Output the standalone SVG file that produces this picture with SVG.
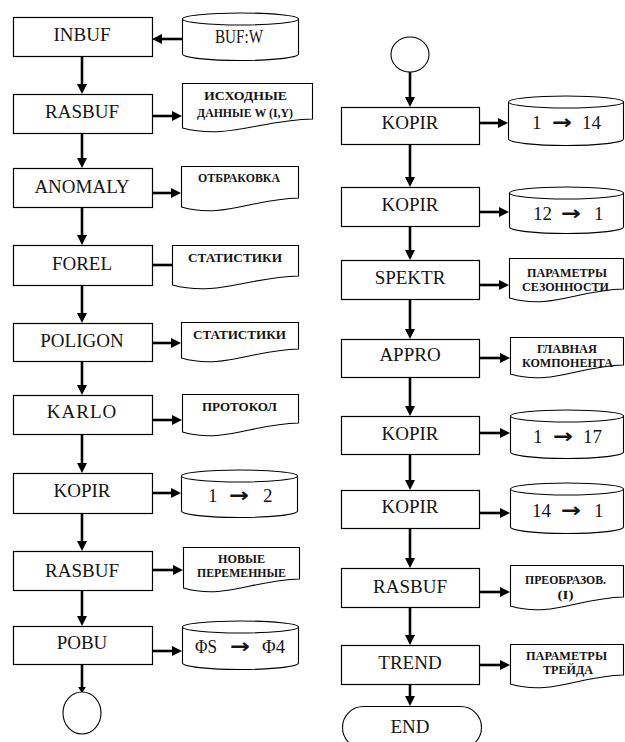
<svg xmlns="http://www.w3.org/2000/svg" width="625" height="742" viewBox="0 0 625 742">
<style>
.box{fill:#fff;stroke:#000;stroke-width:1.2}
.shp{fill:#fff;stroke:#000;stroke-width:1.1}
.lbl{font-family:"Liberation Serif","Times New Roman",serif;font-size:19px;fill:#141414;text-anchor:middle}
.dl{font-family:"Liberation Serif","Times New Roman",serif;font-size:12px;font-weight:bold;fill:#141414;text-anchor:middle}
.dg{font-family:"Liberation Serif","Times New Roman",serif;font-size:19px;fill:#141414}
.ar{font-family:"DejaVu Sans",sans-serif;font-weight:bold;font-size:20px}
.cn{stroke:#000;stroke-width:2.6;fill:none}
</style>
<defs>
<marker id="ah" markerUnits="userSpaceOnUse" markerWidth="11" markerHeight="11" refX="4" refY="5" orient="auto">
<path d="M0,0 L10,5 L0,10 z" fill="#000"/>
</marker>
</defs>

<g id="connectors">
<line class="cn" x1="82" y1="56" x2="82" y2="88" marker-end="url(#ah)"/>
<line class="cn" x1="82" y1="133" x2="82" y2="162" marker-end="url(#ah)"/>
<line class="cn" x1="82" y1="207" x2="82" y2="239" marker-end="url(#ah)"/>
<line class="cn" x1="82" y1="285" x2="82" y2="317" marker-end="url(#ah)"/>
<line class="cn" x1="82" y1="361" x2="82" y2="389" marker-end="url(#ah)"/>
<line class="cn" x1="82" y1="434" x2="82" y2="467" marker-end="url(#ah)"/>
<line class="cn" x1="82" y1="513" x2="82" y2="545" marker-end="url(#ah)"/>
<line class="cn" x1="82" y1="590" x2="82" y2="620" marker-end="url(#ah)"/>
<line class="cn" x1="82" y1="664" x2="82" y2="688"/>
<path d="M78,687 L86,687 L82,693 z" fill="#000"/>
<line class="cn" x1="182" y1="39" x2="158" y2="39" marker-end="url(#ah)"/>
<line class="cn" x1="152" y1="116" x2="176" y2="116" marker-end="url(#ah)"/>
<line class="cn" x1="152" y1="193" x2="175" y2="193" marker-end="url(#ah)"/>
<line class="cn" x1="152" y1="265" x2="172" y2="265"/>
<line class="cn" x1="152" y1="343" x2="175" y2="343" marker-end="url(#ah)"/>
<line class="cn" x1="152" y1="420" x2="176" y2="420" marker-end="url(#ah)"/>
<line class="cn" x1="152" y1="493" x2="175" y2="493" marker-end="url(#ah)"/>
<line class="cn" x1="152" y1="570" x2="177" y2="570" marker-end="url(#ah)"/>
<line class="cn" x1="152" y1="651" x2="176" y2="651" marker-end="url(#ah)"/>
<line class="cn" x1="410" y1="72" x2="410" y2="101" marker-end="url(#ah)"/>
<line class="cn" x1="410" y1="144" x2="410" y2="181" marker-end="url(#ah)"/>
<line class="cn" x1="410" y1="226" x2="410" y2="254" marker-end="url(#ah)"/>
<line class="cn" x1="410" y1="299" x2="410" y2="333" marker-end="url(#ah)"/>
<line class="cn" x1="410" y1="377" x2="410" y2="410" marker-end="url(#ah)"/>
<line class="cn" x1="410" y1="454" x2="410" y2="484" marker-end="url(#ah)"/>
<line class="cn" x1="410" y1="528" x2="410" y2="562" marker-end="url(#ah)"/>
<line class="cn" x1="410" y1="607" x2="410" y2="639" marker-end="url(#ah)"/>
<line class="cn" x1="410" y1="678" x2="410" y2="700" marker-end="url(#ah)"/>
<line class="cn" x1="479" y1="123" x2="502" y2="123" marker-end="url(#ah)"/>
<line class="cn" x1="479" y1="212" x2="503" y2="212" marker-end="url(#ah)"/>
<line class="cn" x1="479" y1="285" x2="503" y2="285" marker-end="url(#ah)"/>
<line class="cn" x1="479" y1="358" x2="504" y2="358" marker-end="url(#ah)"/>
<line class="cn" x1="479" y1="433" x2="504" y2="433" marker-end="url(#ah)"/>
<line class="cn" x1="479" y1="513" x2="504" y2="513" marker-end="url(#ah)"/>
<line class="cn" x1="479" y1="592" x2="504" y2="592" marker-end="url(#ah)"/>
<line class="cn" x1="479" y1="665" x2="504" y2="665" marker-end="url(#ah)"/>
</g>

<g id="inbuf"><rect class="box" x="13.5" y="17.5" width="139" height="39"/><text class="lbl" x="82" y="41">INBUF</text></g>
<g id="rasbuf1"><rect class="box" x="13.5" y="94.5" width="139" height="39"/><text class="lbl" x="82" y="118">RASBUF</text></g>
<g id="anomaly"><rect class="box" x="13.5" y="168.5" width="139" height="39"/><text class="lbl" x="82" y="193">ANOMALY</text></g>
<g id="forel"><rect class="box" x="13.5" y="245.5" width="139" height="40"/><text class="lbl" x="82" y="270">FOREL</text></g>
<g id="poligon"><rect class="box" x="13.5" y="323.5" width="139" height="38"/><text class="lbl" x="82" y="347">POLIGON</text></g>
<g id="karlo"><rect class="box" x="13.5" y="395.5" width="139" height="39"/><text class="lbl" x="82" y="418" letter-spacing="1">KARLO</text></g>
<g id="kopir1"><rect class="box" x="13.5" y="473.5" width="139" height="40"/><text class="lbl" x="82" y="497">KOPIR</text></g>
<g id="rasbuf2"><rect class="box" x="13.5" y="551.5" width="139" height="39"/><text class="lbl" x="82" y="577">RASBUF</text></g>
<g id="pobu"><rect class="box" x="13.5" y="626.5" width="139" height="38"/><text class="lbl" x="82" y="649">POBU</text></g>
<g id="conn-left"><ellipse class="shp" cx="82" cy="713" rx="19" ry="21"/></g>

<g id="bufw">
<path class="shp" d="M182.5,19 V54 A58,6.5 0 0 0 298.5,54 V19"/>
<ellipse class="shp" cx="240.5" cy="19" rx="58" ry="6"/>
<text class="dg" x="239" y="43" font-size="15" text-anchor="middle" textLength="48" lengthAdjust="spacingAndGlyphs">BUF:W</text>
</g>
<g id="doc-ishod">
<path class="shp" d="M182.5,83.5 H312.5 V119 C260.5,120 227.5,140 182.5,128 Z"/>
<text class="dl" x="245.5" y="100" textLength="83" lengthAdjust="spacingAndGlyphs">ИСХОДНЫЕ</text>
<text class="dl" x="245" y="117" textLength="96" lengthAdjust="spacingAndGlyphs">ДАННЫЕ W (I,Y)</text>
</g>
<g id="doc-otbrak">
<path class="shp" d="M181.5,166.5 H298.5 V198 C251.5,199 222.5,219 181.5,207 Z"/>
<text class="dl" x="239" y="182" textLength="82" lengthAdjust="spacingAndGlyphs">ОТБРАКОВКА</text>
</g>
<g id="doc-stat1">
<path class="shp" d="M172.5,245.5 H298.5 V276 C248.5,277 216.5,297 172.5,285 Z"/>
<text class="dl" x="235" y="262" textLength="94" lengthAdjust="spacingAndGlyphs">СТАТИСТИКИ</text>
</g>
<g id="doc-stat2">
<path class="shp" d="M181.5,322.5 H298.5 V349 C251.5,350 222.5,370 181.5,358 Z"/>
<text class="dl" x="239.5" y="339" textLength="93" lengthAdjust="spacingAndGlyphs">СТАТИСТИКИ</text>
</g>
<g id="doc-protokol">
<path class="shp" d="M182.5,394.5 H298.5 V423 C251.5,424 223.5,444 182.5,432 Z"/>
<text class="dl" x="239.5" y="411" textLength="75" lengthAdjust="spacingAndGlyphs">ПРОТОКОЛ</text>
</g>
<g id="cyl-1-2">
<path class="shp" d="M181.5,476 V511 A58,6.5 0 0 0 297.5,511 V476"/>
<ellipse class="shp" cx="239.5" cy="476" rx="58" ry="6"/>
<text class="dg" y="502"><tspan x="208">1</tspan><tspan class="ar" x="229" textLength="20" lengthAdjust="spacingAndGlyphs">→</tspan><tspan x="263">2</tspan></text>
</g>
<g id="doc-novye">
<path class="shp" d="M183.5,547.5 H299.5 V579 C252.5,580 224.5,600 183.5,588 Z"/>
<text class="dl" x="241.5" y="563" textLength="47" lengthAdjust="spacingAndGlyphs">НОВЫЕ</text>
<text class="dl" x="241.5" y="577" textLength="89" lengthAdjust="spacingAndGlyphs">ПЕРЕМЕННЫЕ</text>
</g>
<g id="cyl-fs-f4">
<path class="shp" d="M182.5,627 V663 A58,6.5 0 0 0 298.5,663 V627"/>
<ellipse class="shp" cx="240.5" cy="627" rx="58" ry="6"/>
<text class="dg" y="653"><tspan x="195" textLength="22" lengthAdjust="spacingAndGlyphs">ΦS</tspan><tspan class="ar" x="230" textLength="20" lengthAdjust="spacingAndGlyphs">→</tspan><tspan x="262" textLength="23" lengthAdjust="spacingAndGlyphs">Φ4</tspan></text>
</g>

<g id="conn-right"><ellipse class="shp" cx="410" cy="54.5" rx="19" ry="17.5"/></g>
<g id="kopir2"><rect class="box" x="341.5" y="107.5" width="138" height="37"/><text class="lbl" x="410" y="129">KOPIR</text></g>
<g id="kopir3"><rect class="box" x="341.5" y="187.5" width="138" height="39"/><text class="lbl" x="410" y="211">KOPIR</text></g>
<g id="spektr"><rect class="box" x="341.5" y="260.5" width="138" height="39"/><text class="lbl" x="410" y="284">SPEKTR</text></g>
<g id="appro"><rect class="box" x="341.5" y="339.5" width="138" height="38"/><text class="lbl" x="410" y="361">APPRO</text></g>
<g id="kopir4"><rect class="box" x="341.5" y="416.5" width="138" height="38"/><text class="lbl" x="410" y="440">KOPIR</text></g>
<g id="kopir5"><rect class="box" x="341.5" y="490.5" width="138" height="38"/><text class="lbl" x="410" y="513">KOPIR</text></g>
<g id="rasbuf3"><rect class="box" x="341.5" y="568.5" width="138" height="39"/><text class="lbl" x="410" y="593">RASBUF</text></g>
<g id="trend"><rect class="box" x="341.5" y="645.5" width="138" height="39"/><text class="lbl" x="410" y="669">TREND</text></g>
<g id="end">
<path class="shp" d="M363.5,706.5 H460.5 A21,21 0 0 1 460.5,748.5 H363.5 A21,21 0 0 1 363.5,706.5 Z"/>
<text class="lbl" x="410" y="733" font-size="17">END</text>
</g>

<g id="cyl-1-14">
<path class="shp" d="M508.5,102 V139 A57.5,6.5 0 0 0 623.5,139 V102"/>
<ellipse class="shp" cx="566" cy="102" rx="57.5" ry="6"/>
<text class="dg" y="129"><tspan x="532">1</tspan><tspan class="ar" x="552" textLength="20" lengthAdjust="spacingAndGlyphs">→</tspan><tspan x="582">14</tspan></text>
</g>
<g id="cyl-12-1">
<path class="shp" d="M509.5,193 V227 A57,6.5 0 0 0 623.5,227 V193"/>
<ellipse class="shp" cx="566.5" cy="193" rx="57" ry="6"/>
<text class="dg" y="220"><tspan x="533">12</tspan><tspan class="ar" x="561" textLength="20" lengthAdjust="spacingAndGlyphs">→</tspan><tspan x="594">1</tspan></text>
</g>
<g id="doc-sezon">
<path class="shp" d="M509.5,258.5 H623.5 V289 C577.5,290 550.5,310 509.5,298 Z"/>
<text class="dl" x="567" y="277" textLength="80" lengthAdjust="spacingAndGlyphs">ПАРАМЕТРЫ</text>
<text class="dl" x="565.5" y="291" textLength="87" lengthAdjust="spacingAndGlyphs">СЕЗОННОСТИ</text>
</g>
<g id="doc-glav">
<path class="shp" d="M510.5,337.5 H623.5 V365 C578.5,366 550.5,386 510.5,374 Z"/>
<text class="dl" x="567" y="353" textLength="60" lengthAdjust="spacingAndGlyphs">ГЛАВНАЯ</text>
<text class="dl" x="567.5" y="367" textLength="91" lengthAdjust="spacingAndGlyphs">КОМПОНЕНТА</text>
</g>
<g id="cyl-1-17">
<path class="shp" d="M510.5,416 V452 A56.5,6.5 0 0 0 623.5,452 V416"/>
<ellipse class="shp" cx="567" cy="416" rx="56.5" ry="6"/>
<text class="dg" y="443"><tspan x="533">1</tspan><tspan class="ar" x="553" textLength="20" lengthAdjust="spacingAndGlyphs">→</tspan><tspan x="583">17</tspan></text>
</g>
<g id="cyl-14-1">
<path class="shp" d="M510.5,489 V527 A56.5,6.5 0 0 0 623.5,527 V489"/>
<ellipse class="shp" cx="567" cy="489" rx="56.5" ry="6"/>
<text class="dg" y="517"><tspan x="532">14</tspan><tspan class="ar" x="561" textLength="20" lengthAdjust="spacingAndGlyphs">→</tspan><tspan x="594">1</tspan></text>
</g>
<g id="doc-preobr">
<path class="shp" d="M510.5,565.5 H623.5 V597 C578.5,598 550.5,618 510.5,606 Z"/>
<text class="dl" x="565.5" y="584" font-size="11" textLength="81" lengthAdjust="spacingAndGlyphs">ПРЕОБРАЗОВ.</text>
<text class="dl" x="565.5" y="599" font-size="10" textLength="16" lengthAdjust="spacingAndGlyphs">(I)</text>
</g>
<g id="doc-treid">
<path class="shp" d="M510.5,644.5 H623.5 V675 C578.5,676 550.5,696 510.5,684 Z"/>
<text class="dl" x="566.5" y="660" textLength="81" lengthAdjust="spacingAndGlyphs">ПАРАМЕТРЫ</text>
<text class="dl" x="568" y="674" textLength="50" lengthAdjust="spacingAndGlyphs">ТРЕЙДА</text>
</g>
</svg>
